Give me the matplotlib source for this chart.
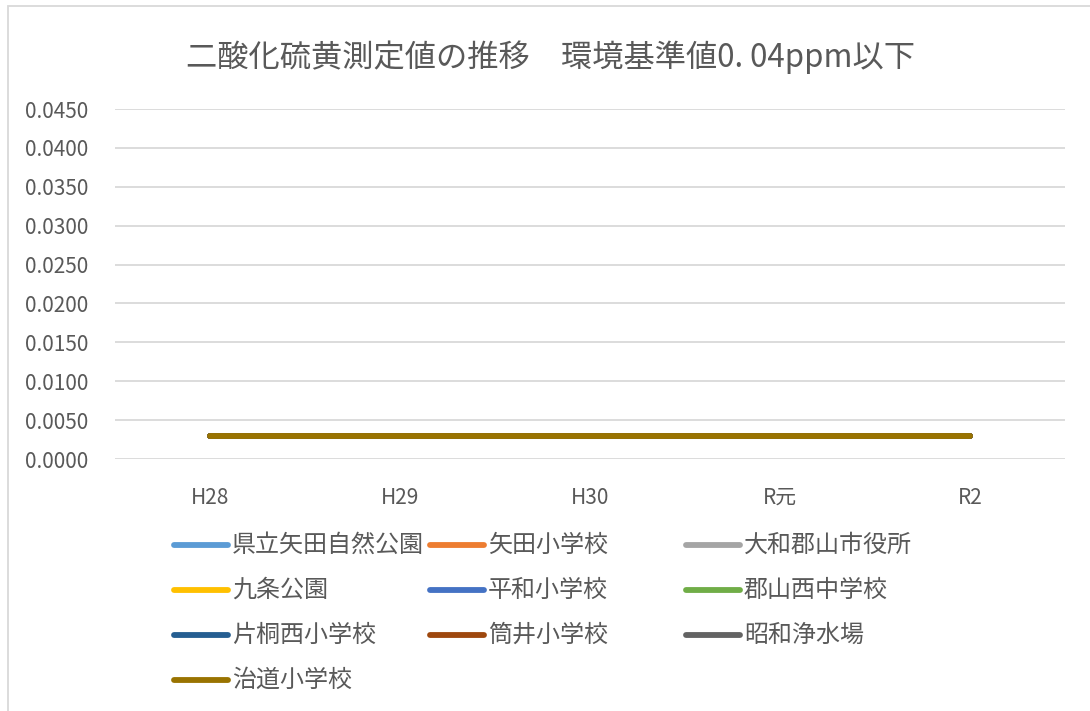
import matplotlib
matplotlib.use('Agg')
import matplotlib.pyplot as plt
from matplotlib.lines import Line2D
from matplotlib.patches import Rectangle
from matplotlib.ticker import FormatStrFormatter

plt.rcParams['font.family'] = ['Noto Sans CJK JP', 'DejaVu Sans']

years = ['H28', 'H29', 'H30', 'R元', 'R2']
sites = ['県立矢田自然公園', '矢田小学校', '大和郡山市役所', '九条公園', '平和小学校',
         '郡山西中学校', '片桐西小学校', '筒井小学校', '昭和浄水場', '治道小学校']
colors = ['#5B9BD5', '#ED7D31', '#A5A5A5', '#FFC000', '#4472C4',
          '#70AD47', '#255E91', '#9E480E', '#636363', '#997300']
so2 = [
    [0.003, 0.003, 0.003, 0.003, 0.003],
    [0.003, 0.003, 0.003, 0.003, 0.003],
    [0.003, 0.003, 0.003, 0.003, 0.003],
    [0.003, 0.003, 0.003, 0.003, 0.003],
    [0.003, 0.003, 0.003, 0.003, 0.003],
    [0.003, 0.003, 0.003, 0.003, 0.003],
    [0.003, 0.003, 0.003, 0.003, 0.003],
    [0.003, 0.003, 0.003, 0.003, 0.003],
    [0.003, 0.003, 0.003, 0.003, 0.003],
    [0.003, 0.003, 0.003, 0.003, 0.003],
]

W, H = 1090, 711
txt = '#595959'
grid = '#d9d9d9'

fig = plt.figure(figsize=(W / 100, H / 100), dpi=100)
ax = fig.add_axes([115 / W, 1 - 459 / H, 950 / W, 350 / H])

x = list(range(len(years)))
for name, col, vals in zip(sites, colors, so2):
    ax.plot(x, vals, color=col, lw=4.2, solid_capstyle='round', label=name)

ax.set_xlim(-0.5, len(years) - 0.5)
ax.set_ylim(0, 0.045)
ax.set_yticks([i * 0.005 for i in range(10)])
ax.yaxis.set_major_formatter(FormatStrFormatter('%.4f'))
ax.set_xticks(x)
ax.set_xticklabels(years)
ax.grid(axis='y', color=grid, lw=1.3)
ax.set_axisbelow(True)
for s in ax.spines.values():
    s.set_visible(False)
ax.tick_params(length=0, colors=txt, labelsize=15)
ax.tick_params(axis='y', pad=19)
ax.tick_params(axis='x', pad=20)

fig.text(550 / W, 1 - 57 / H, '二酸化硫黄測定値の推移　環境基準値0. 04ppm以下',
         ha='center', va='center', fontsize=22.5, color=txt)

# legend, 3 columns laid out like the original
col_x = [174, 430, 686]
row_y = [545, 590, 635, 680]
for i, (name, col) in enumerate(zip(sites, colors)):
    cx = col_x[i % 3]
    cy = row_y[i // 3]
    fig.add_artist(Line2D([cx / W, (cx + 54) / W], [1 - cy / H, 1 - cy / H],
                          transform=fig.transFigure, color=col, lw=4.2,
                          solid_capstyle='round'))
    fig.text((cx + 58) / W, 1 - cy / H, name, ha='left', va='center',
             fontsize=17.3, color=txt)

fig.add_artist(Rectangle((8 / W, -0.05), 1.0, 1.05 - 6 / H, transform=fig.transFigure,
                         fill=False, edgecolor=grid, lw=1.3))

fig.savefig('out.png', dpi=100)
